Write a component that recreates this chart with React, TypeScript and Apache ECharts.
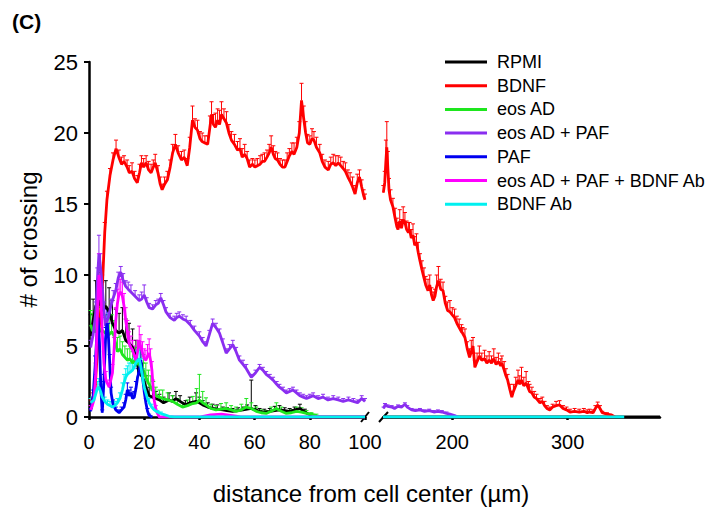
import React, { useEffect, useRef } from "react";
import * as echarts from "echarts";

const legendNames = ["RPMI", "BDNF", "eos AD", "eos AD + PAF", "PAF", "eos AD + PAF + BDNF Ab", "BDNF Ab"];
const colors = ["#000000", "#ff0000", "#1ee61e", "#8a2ef0", "#0000f0", "#ff00ff", "#00f0f0"];
const leftTickValues = [0, 20, 40, 60, 80, 100];
const rightTickValues = [200, 300];

// [distance, crossings, upper error]
const rpmiLeft = [
  [0.6, 5.7, 1.5], [1.5, 6.8, 1.5], [2.4, 7.8, 1.8], [3.6, 8.2, 2.0], [4.8, 7.5, 2.0], [6.1, 7.8, 1.8],
  [7.3, 7.4, 1.7], [8.5, 6.6, 1.6], [9.7, 6.1, 1.5], [10.9, 5.9, 1.4], [12.1, 6.1, 1.6], [13.3, 5.4, 1.5],
  [14.5, 5.2, 1.4], [15.8, 4.9, 1.3], [17.0, 4.2, 1.2], [18.2, 3.1, 1.0], [19.4, 2.8, 1.0], [20.6, 2.1, 0.8],
  [21.8, 1.5, 0.6], [23.0, 1.4, 0.5], [24.2, 1.3, 0.5], [25.5, 1.2, 0.4], [27.0, 1.0, 0.4], [29.0, 1.2, 0.5],
  [30.3, 1.1, 0.4], [31.5, 1.3, 0.5], [33.0, 1.1, 0.4], [35.0, 0.85, 0.3], [36.5, 1.0, 0.4], [38.8, 1.1, 0.6],
  [40.0, 1.0, 0.4], [41.2, 0.85, 0.3], [43.0, 0.7, 0.3], [44.8, 0.6, 0.3], [46.5, 0.55, 0.3], [48.5, 0.5, 0.2],
  [50.0, 0.45, 0.2], [52.0, 0.4, 0.2], [54.0, 0.45, 0.2], [55.8, 0.5, 0.2], [57.3, 0.55, 0.3], [58.8, 0.6, 2.0],
  [60.3, 0.5, 0.3], [61.8, 0.4, 0.2], [63.5, 0.35, 0.2], [65.5, 0.4, 0.2], [67.3, 0.45, 0.3], [69.0, 0.5, 0.3],
  [70.9, 0.45, 0.2], [72.7, 0.4, 0.2], [74.5, 0.5, 0.2], [76.4, 0.6, 0.3], [78.2, 0.35, 0.2], [80.0, 0.15, 0.1],
  [82.0, 0, 0], [100, 0, 0],
];
const rpmiRight = [[140, 0, 0], [380, 0, 0]];

const bdnfLeft = [
  [0.7, 1.0, 0.2], [1.5, 1.4, 0.3], [2.2, 2.0, 0.3], [3.0, 4.5, 0.5], [3.8, 6.5, 0.6], [4.7, 8.5, 0.6],
  [5.7, 13.0, 0.7], [6.5, 15.3, 0.6], [7.6, 17.0, 0.5], [8.7, 18.1, 0.5], [9.8, 18.9, 0.6], [10.8, 18.3, 0.5],
  [11.8, 17.8, 0.5], [12.7, 18.0, 0.4], [13.8, 17.6, 0.5], [14.6, 17.2, 0.5], [15.6, 17.3, 0.6], [16.5, 16.8, 0.5],
  [17.5, 16.5, 0.5], [18.3, 17.2, 0.6], [19.0, 17.9, 0.5], [19.8, 17.6, 0.6], [20.7, 17.9, 0.5], [21.6, 17.4, 0.6],
  [22.5, 17.2, 0.6], [23.3, 17.6, 0.5], [24.0, 17.9, 0.6], [25.0, 17.2, 0.5], [25.8, 16.4, 0.5], [26.5, 16.0, 0.4],
  [27.4, 16.4, 0.5], [28.4, 16.7, 0.6], [29.4, 17.6, 0.5], [30.3, 18.6, 0.6], [31.3, 19.2, 0.7], [32.3, 18.6, 0.5],
  [33.5, 18.1, 0.6], [34.5, 18.3, 0.5], [35.6, 17.7, 0.5], [36.5, 19.0, 0.7], [37.5, 20.9, 1.0], [38.4, 20.4, 0.6],
  [39.3, 20.2, 0.7], [40.2, 19.6, 0.5], [41.0, 19.4, 0.6], [42.0, 19.3, 0.5], [43.0, 19.2, 0.6], [43.8, 20.4, 0.8],
  [44.4, 21.3, 0.9], [45.1, 20.6, 0.7], [45.8, 20.4, 1.0], [46.6, 20.9, 0.8], [47.3, 20.6, 1.0], [48.0, 21.3, 0.9],
  [48.9, 21.0, 0.7], [49.8, 20.7, 0.8], [50.7, 20.0, 0.6], [51.6, 19.5, 0.6], [52.7, 19.2, 0.7], [53.8, 18.8, 0.6],
  [54.7, 18.9, 0.7], [55.5, 18.3, 0.6], [56.4, 18.5, 0.7], [57.3, 18.2, 0.5], [58.2, 17.6, 0.5], [59.2, 17.8, 0.4],
  [60.1, 17.6, 0.5], [61.0, 17.7, 0.5], [62.0, 17.8, 0.6], [62.8, 18.0, 0.5], [63.6, 18.0, 0.6], [64.5, 18.3, 0.5],
  [65.3, 18.6, 0.6], [66.0, 19.0, 0.8], [66.8, 18.5, 0.6], [67.5, 18.2, 0.5], [68.3, 18.1, 0.5], [69.2, 17.8, 0.4],
  [70.1, 17.6, 0.5], [71.0, 17.6, 0.5], [71.8, 18.0, 0.6], [72.6, 18.4, 0.5], [73.5, 18.7, 0.6], [74.3, 18.5, 0.8],
  [75.3, 19.0, 0.7], [76.2, 20.0, 0.8], [77.0, 22.3, 1.2], [77.8, 21.0, 0.9], [78.5, 20.0, 0.8], [79.2, 19.3, 0.6],
  [80.0, 19.2, 0.6], [80.8, 19.6, 0.7], [81.5, 19.5, 0.6], [82.4, 19.0, 0.7], [83.6, 18.6, 0.6], [84.5, 18.0, 0.5],
  [85.5, 17.6, 0.5], [86.7, 17.4, 0.6], [87.6, 17.8, 0.5], [88.5, 17.9, 0.6], [89.4, 17.7, 0.7], [90.3, 17.9, 0.5],
  [91.2, 17.7, 0.6], [92.1, 17.5, 0.5], [92.9, 17.3, 0.6], [93.8, 16.9, 0.5], [94.6, 16.6, 0.6], [95.5, 16.2, 0.7],
  [96.4, 15.7, 0.6], [97.2, 16.5, 0.6], [98.0, 16.9, 0.5], [98.8, 16.2, 0.5], [99.5, 15.6, 0.4], [100, 15.3, 0.4],
];
const bdnfRight = [
  [140.3, 15.8, 0.5], [141.5, 16.5, 0.8], [142.5, 18.0, 1.5], [143.3, 19.0, 1.8], [144.2, 17.5, 1.2], [145.2, 16.0, 0.8],
  [146.5, 15.3, 0.7], [148.6, 14.8, 0.6], [150.5, 14.0, 0.7], [152, 13.4, 0.6], [153, 13.2, 0.5], [154.5, 13.8, 0.8],
  [156, 13.3, 0.6], [157.5, 13.9, 0.9], [159, 13.7, 0.7], [160.5, 13.2, 0.6], [162, 13.0, 0.7], [163, 13.2, 0.5],
  [164.5, 12.6, 0.6], [166, 12.8, 0.8], [167.5, 12.1, 0.6], [169, 12.3, 0.6], [170.5, 11.6, 0.7], [172, 11.0, 0.5],
  [173.7, 10.4, 0.6], [175.5, 9.8, 0.7], [177, 9.3, 0.6], [179, 8.9, 0.8], [180.5, 9.3, 0.7], [182, 8.6, 0.5],
  [183.5, 8.2, 0.6], [185, 8.5, 0.5], [186.5, 9.2, 0.8], [188, 9.6, 1.0], [190, 9.0, 0.7], [192, 8.9, 0.6],
  [194, 8.0, 0.5], [196, 7.5, 0.6], [198, 7.4, 0.8], [200, 7.2, 0.5], [202, 7.0, 0.6], [204, 6.6, 0.5],
  [206, 6.3, 0.6], [208, 6.0, 0.5], [209, 5.9, 0.4], [211, 5.6, 0.6], [213, 4.8, 0.5], [215, 4.2, 0.6],
  [216.5, 4.6, 0.8], [218, 5.0, 0.6], [219.6, 3.5, 0.5], [221.5, 3.9, 0.6], [223.5, 4.3, 0.7], [225.6, 4.0, 0.5],
  [228, 4.1, 0.6], [230, 3.8, 0.5], [232, 4.0, 0.6], [234, 3.8, 0.5], [236, 4.1, 0.7], [238, 3.7, 0.5],
  [240, 3.9, 0.6], [242, 3.6, 0.5], [243, 3.8, 0.5], [245, 3.3, 0.6], [246.5, 2.9, 0.5], [248, 2.6, 0.4],
  [250, 1.9, 0.4], [251.6, 1.4, 0.4], [253, 1.8, 0.5], [255, 2.2, 0.6], [257, 2.6, 0.7], [258.5, 2.3, 0.6],
  [260, 2.6, 0.9], [262, 2.2, 0.6], [264, 2.4, 0.8], [266, 2.0, 0.5], [267, 1.8, 0.5], [269, 1.7, 0.4],
  [271, 1.4, 0.4], [273, 1.3, 0.3], [276, 1.0, 0.3], [278, 1.1, 0.3], [280, 0.8, 0.3], [282, 0.6, 0.2],
  [284.5, 0.5, 0.2], [287, 0.7, 0.2], [290, 0.8, 0.3], [293, 0.85, 0.3], [296, 0.6, 0.2], [299, 0.5, 0.2],
  [302, 0.35, 0.2], [306, 0.4, 0.2], [310, 0.35, 0.2], [314, 0.4, 0.2], [317, 0.3, 0.2], [319, 0.35, 0.2],
  [322, 0.3, 0.2], [324, 0.6, 0.2], [326, 0.85, 0.2], [328, 0.6, 0.2], [330, 0.3, 0.1], [334, 0.2, 0.1],
  [338, 0.15, 0], [341, 0, 0],
];

const eosLeft = [
  [0.6, 6.5, 1.0], [1.2, 6.1, 1.2], [2.4, 6.0, 1.5], [3.6, 6.2, 1.5], [4.8, 6.1, 1.4], [6.0, 5.9, 1.3],
  [7.3, 5.8, 1.2], [8.2, 6.0, 1.2], [9.1, 5.7, 1.1], [10.3, 4.6, 1.0], [11.2, 4.8, 0.9], [12.1, 4.4, 0.9],
  [13.0, 4.2, 0.8], [13.9, 4.0, 0.8], [14.8, 4.1, 0.9], [15.8, 3.8, 0.8], [16.7, 4.0, 0.9], [17.6, 3.8, 1.1],
  [18.8, 3.5, 1.2], [19.7, 3.3, 1.1], [20.6, 2.8, 1.0], [21.5, 2.4, 0.9], [22.4, 2.1, 0.8], [23.3, 1.8, 0.7],
  [24.2, 1.5, 0.6], [25.5, 1.4, 0.5], [26.7, 1.3, 0.6], [28.5, 1.2, 0.5], [30.3, 1.1, 0.4], [32.0, 0.9, 0.4],
  [33.9, 0.7, 0.3], [35.7, 0.8, 0.4], [37.6, 0.95, 0.5], [39.0, 1.0, 1.0], [40.0, 1.2, 1.8], [41.2, 1.0, 0.8],
  [42.4, 0.85, 0.5], [44.2, 0.6, 0.3], [46.0, 0.5, 0.3], [47.8, 0.55, 0.4], [49.7, 0.6, 0.4], [51.5, 0.5, 0.3],
  [53.3, 0.4, 0.3], [55.2, 0.5, 0.4], [57.0, 0.7, 0.6], [58.8, 0.6, 0.4], [60.6, 0.4, 0.3], [62.4, 0.3, 0.2],
  [64.2, 0.25, 0.2], [66.0, 0.4, 0.3], [67.9, 0.6, 0.4], [69.7, 0.4, 0.3], [71.5, 0.25, 0.2], [73.3, 0.3, 0.2],
  [75.2, 0.4, 0.3], [77.0, 0.35, 0.3], [78.8, 0.25, 0.2], [80.6, 0.2, 0.1], [82.4, 0.1, 0.1],
];
const eosRight = [];

const eosPafLeft = [
  [0.6, 4.9, 0.5], [1.5, 5.8, 0.6], [2.4, 7.3, 0.8], [3.0, 9.5, 1.0], [3.6, 11.5, 1.3], [4.2, 10.5, 1.0],
  [4.8, 9.2, 0.8], [5.4, 7.5, 0.6], [6.0, 6.4, 0.5], [7.0, 7.0, 0.4], [7.9, 7.8, 0.5], [8.8, 8.4, 0.5],
  [9.7, 8.9, 0.5], [10.6, 9.8, 0.4], [11.5, 10.2, 0.4], [12.4, 9.6, 0.5], [13.3, 9.2, 0.4], [14.2, 9.0, 0.5],
  [15.2, 8.8, 0.5], [16.7, 8.5, 0.4], [18.2, 8.2, 0.4], [19.1, 8.3, 0.5], [20.0, 8.6, 0.7], [20.9, 8.1, 0.3],
  [21.8, 7.7, 0.3], [23.0, 7.6, 0.3], [24.2, 7.9, 0.3], [25.1, 8.0, 0.3], [26.0, 8.4, 0.3], [27.0, 7.9, 0.3],
  [27.9, 7.4, 0.3], [29.4, 7.0, 0.3], [30.9, 6.8, 0.3], [31.8, 7.0, 0.3], [32.7, 7.1, 0.3], [34.0, 6.9, 0.3],
  [35.2, 6.8, 0.3], [36.7, 6.5, 0.3], [38.2, 6.1, 0.3], [40.0, 5.7, 0.3], [41.2, 5.3, 0.3], [42.4, 5.0, 0.3],
  [43.6, 5.8, 0.3], [44.8, 6.6, 0.3], [46.0, 6.3, 0.3], [47.3, 5.9, 0.3], [48.5, 5.2, 0.3], [49.7, 4.5, 0.3],
  [50.9, 4.8, 0.3], [52.1, 5.1, 0.3], [53.3, 4.6, 0.3], [54.5, 4.0, 0.3], [55.8, 3.7, 0.3], [57.0, 3.4, 0.3],
  [58.8, 2.8, 0.2], [60.3, 3.1, 0.2], [61.8, 3.5, 0.2], [63.0, 3.3, 0.2], [64.2, 3.0, 0.2], [65.5, 2.8, 0.2],
  [66.7, 2.6, 0.2], [68.0, 2.3, 0.2], [69.0, 2.1, 0.2], [70.3, 1.9, 0.2], [71.5, 1.7, 0.2], [72.7, 1.8, 0.2],
  [73.9, 1.9, 0.2], [75.2, 1.7, 0.2], [76.4, 1.5, 0.2], [77.6, 1.4, 0.2], [78.8, 1.3, 0.2], [80.0, 1.4, 0.2],
  [81.2, 1.5, 0.2], [83.0, 1.3, 0.2], [84.8, 1.4, 0.2], [86.6, 1.2, 0.2], [88.5, 1.3, 0.2], [90.3, 1.2, 0.2],
  [92.1, 1.1, 0.2], [94.0, 1.2, 0.2], [95.8, 1.1, 0.2], [97.3, 1.0, 0.2], [98.8, 1.3, 0.2], [100, 1.1, 0.2],
];
const eosPafRight = [
  [140.5, 0.6, 0.1], [141.7, 0.85, 0.1], [144, 0.75, 0.1], [147.5, 0.7, 0.1], [150, 0.6, 0.1], [153, 0.75, 0.1],
  [156, 0.7, 0.1], [159, 0.9, 0.1], [161, 0.7, 0.1], [164.8, 0.5, 0.1], [168, 0.45, 0.1], [172, 0.5, 0.1],
  [176, 0.4, 0.1], [180, 0.45, 0.1], [184, 0.35, 0.1], [187.6, 0.4, 0.1], [191, 0.35, 0.1], [195, 0.25, 0.1],
  [198, 0.2, 0], [202, 0.1, 0], [205, 0, 0],
];

const pafLeft = [
  [0.6, 0.4, 0.2], [1.5, 1.5, 0.4], [2.2, 3.5, 0.8], [2.9, 6.0, 1.0], [3.3, 7.0, 1.0], [3.8, 5.2, 0.8],
  [4.3, 2.0, 0.5], [4.8, 0.3, 0.2], [5.4, 2.5, 0.5], [6.0, 5.5, 0.8], [6.5, 6.6, 1.0], [7.0, 5.8, 0.8],
  [7.5, 3.8, 0.6], [8.0, 1.7, 0.4], [8.7, 0.9, 0.3], [9.7, 0.5, 0.2], [10.9, 0.3, 0.2], [11.8, 0.5, 0.2],
  [12.7, 0.7, 0.3], [13.3, 1.2, 0.4], [13.9, 1.9, 0.5], [14.6, 1.5, 0.4], [15.2, 1.7, 0.4], [15.8, 1.3, 0.4],
  [16.4, 1.4, 0.4], [17.0, 2.0, 0.5], [17.6, 2.8, 0.6], [18.2, 3.2, 0.7], [18.8, 4.0, 0.8], [19.4, 2.8, 0.6],
  [20.0, 1.8, 0.4], [20.6, 1.0, 0.3], [21.2, 0.4, 0.2], [21.8, 0.1, 0.1], [23.0, 0, 0],
];
const pafRight = [];

const eosPafAbLeft = [
  [0.6, 0.5, 0.3], [1.2, 0.8, 0.3], [1.8, 1.2, 0.4], [2.4, 3.0, 0.8], [3.0, 7.0, 1.2], [3.6, 10.0, 1.5],
  [4.2, 9.0, 1.3], [4.8, 6.0, 1.0], [5.4, 3.8, 0.8], [6.1, 2.6, 0.6], [7.3, 2.1, 0.5], [8.5, 3.1, 0.6],
  [9.1, 4.8, 0.8], [9.7, 6.8, 0.9], [10.3, 8.0, 1.0], [10.9, 8.7, 1.0], [11.5, 8.8, 0.9], [12.1, 8.5, 1.0],
  [12.7, 7.8, 0.9], [13.3, 6.8, 0.9], [13.9, 6.0, 0.8], [14.5, 5.2, 0.8], [15.2, 4.9, 0.8], [15.8, 4.7, 0.7],
  [16.4, 4.3, 0.7], [17.0, 4.0, 0.7], [17.6, 4.6, 0.8], [18.2, 5.4, 1.0], [18.8, 4.9, 0.9], [19.4, 4.5, 0.8],
  [20.0, 4.1, 0.7], [20.6, 4.0, 0.7], [21.2, 4.3, 0.8], [21.8, 4.5, 1.0], [22.3, 4.0, 0.8], [22.8, 3.3, 0.6],
  [23.2, 2.2, 0.4], [23.6, 1.2, 0.3], [24.2, 0.6, 0.2], [24.8, 0.25, 0.1], [25.5, 0, 0], [40, 0, 0],
  [44, 0.15, 0], [48, 0.2, 0], [52, 0.1, 0], [55, 0, 0], [100, 0, 0],
];
const eosPafAbRight = [];

const bdnfAbLeft = [
  [0.6, 1.0, 0.3], [1.2, 1.1, 0.3], [1.8, 1.2, 0.3], [2.4, 1.6, 0.4], [3.0, 2.0, 0.5], [3.6, 2.1, 0.6],
  [4.2, 1.8, 0.5], [4.8, 1.4, 0.4], [5.7, 1.1, 0.3], [6.7, 0.9, 0.3], [7.6, 0.8, 0.3], [8.5, 0.7, 0.3],
  [9.4, 0.8, 0.3], [10.3, 1.0, 0.3], [11.2, 1.3, 0.4], [12.1, 1.9, 0.5], [12.7, 2.4, 0.6], [13.3, 2.8, 0.6],
  [13.9, 3.0, 0.6], [14.5, 3.1, 0.7], [15.2, 3.2, 0.6], [15.8, 3.3, 0.7], [16.4, 3.5, 0.7], [17.0, 3.8, 0.8],
  [17.6, 4.0, 0.7], [18.2, 4.1, 0.7], [18.8, 3.5, 0.6], [19.4, 2.8, 0.6], [20.0, 2.1, 0.5], [20.6, 1.7, 0.4],
  [21.2, 1.3, 0.3], [21.8, 1.0, 0.3], [22.7, 0.7, 0.2], [23.6, 0.5, 0.2], [24.8, 0.35, 0.1], [26.0, 0.25, 0.1],
  [27.5, 0.15, 0], [29.0, 0.05, 0], [31.0, 0, 0], [100, 0, 0],
];
const bdnfAbRight = [[140, 0, 0], [349, 0, 0]];

const seriesLeft = [rpmiLeft, bdnfLeft, eosLeft, eosPafLeft, pafLeft, eosPafAbLeft, bdnfAbLeft];
const seriesRight = [rpmiRight, bdnfRight, eosRight, eosPafRight, pafRight, eosPafAbRight, bdnfAbRight];

const FONT = "'Liberation Sans', Arial, Helvetica, sans-serif";

function errorSeries(name: string, color: string, data: number[][], axis: number) {
  return {
    type: "custom",
    name,
    xAxisIndex: axis,
    yAxisIndex: axis,
    data,
    encode: { x: 0, y: 1 },
    itemStyle: { color },
    renderItem: (_params: any, api: any) => {
      const x = api.value(0);
      const y = api.value(1);
      const e = api.value(2);
      if (!e) return null;
      const p0 = api.coord([x, y]);
      const p1 = api.coord([x, y + e]);
      return {
        type: "group",
        children: [
          { type: "line", shape: { x1: p0[0], y1: p0[1], x2: p1[0], y2: p1[1] }, style: { stroke: color, lineWidth: 1 } },
          { type: "line", shape: { x1: p1[0] - 2, y1: p1[1], x2: p1[0] + 2, y2: p1[1] }, style: { stroke: color, lineWidth: 1 } },
        ],
      };
    },
  };
}

export default function App() {
  const ref = useRef<HTMLDivElement>(null);
  useEffect(() => {
    if (!ref.current) return;
    const chart = echarts.init(ref.current, null, { renderer: "svg" });
    const series: any[] = [];
    legendNames.forEach((name, i) => {
      const color = colors[i];
      const segs = [seriesLeft[i], seriesRight[i]];
      segs.forEach((seg, axis) => {
        if (!seg.length) return;
        series.push({
          type: "line",
          name,
          xAxisIndex: axis,
          yAxisIndex: axis,
          data: seg.map((d) => [d[0], d[1]]),
          showSymbol: false,
          symbol: "none",
          lineStyle: { color, width: 2.8 },
          itemStyle: { color },
        });
        series.push(errorSeries(name, color, seg, axis));
      });
    });
    const axisLineStyle = { color: "#000", width: 2.5 };
    chart.setOption({
      animation: false,
      grid: [
        { left: 89, top: 62, width: 276, height: 355 },
        { left: 383, top: 62, width: 277, height: 355 },
      ],
      xAxis: [
        {
          type: "value", gridIndex: 0, min: 0, max: 100, interval: 20,
          axisLine: { lineStyle: axisLineStyle },
          axisTick: { length: 3, lineStyle: { width: 2.5, color: "#000" } },
          axisLabel: { fontSize: 20, color: "#000", fontFamily: FONT, margin: 15, customValues: leftTickValues },
          splitLine: { show: false },
        },
        {
          type: "value", gridIndex: 1, min: 140, max: 380,
          axisLine: { lineStyle: axisLineStyle },
          axisTick: { length: 3, lineStyle: { width: 2.5, color: "#000" }, customValues: rightTickValues },
          axisLabel: { fontSize: 20, color: "#000", fontFamily: FONT, margin: 15, customValues: rightTickValues },
          splitLine: { show: false },
        },
      ],
      yAxis: [
        {
          type: "value", gridIndex: 0, min: 0, max: 25, interval: 5,
          name: "# of crossing", nameLocation: "middle", nameGap: 49,
          nameTextStyle: { fontSize: 24, color: "#000", fontFamily: FONT },
          axisLine: { show: true, lineStyle: axisLineStyle },
          axisTick: { show: true, length: 5, lineStyle: { width: 2, color: "#000" } },
          axisLabel: { fontSize: 22, color: "#000", fontFamily: FONT, margin: 11 },
          splitLine: { show: false },
        },
        { type: "value", gridIndex: 1, min: 0, max: 25, show: false, splitLine: { show: false } },
      ],
      legend: {
        orient: "vertical",
        left: 440,
        top: 48,
        itemWidth: 42,
        itemHeight: 3,
        itemGap: 5.7,
        icon: "rect",
        data: legendNames.map((n, i) => ({ name: n, itemStyle: { color: colors[i] } })),
        textStyle: { fontSize: 18, color: "#000", fontFamily: FONT, lineHeight: 18, padding: [0, 0, 0, 5] },
      },
      graphic: [
        { type: "text", left: 12, top: 11, style: { text: "(C)", font: `bold 21px ${FONT}`, fill: "#000" } },
        {
          type: "text", x: 371, y: 493,
          style: { text: "distance from cell center (µm)", font: `24px ${FONT}`, fill: "#000", textAlign: "center", textVerticalAlign: "middle" },
        },
        { type: "line", shape: { x1: 361, y1: 422, x2: 369, y2: 412 }, style: { stroke: "#000", lineWidth: 2 } },
        { type: "line", shape: { x1: 379, y1: 422, x2: 388, y2: 412 }, style: { stroke: "#000", lineWidth: 2 } },
      ],
      series,
    });
    return () => chart.dispose();
  }, []);
  return <div ref={ref} style={{ position: "fixed", left: 0, top: 0, width: 724, height: 513, background: "#fff" }} />;
}
